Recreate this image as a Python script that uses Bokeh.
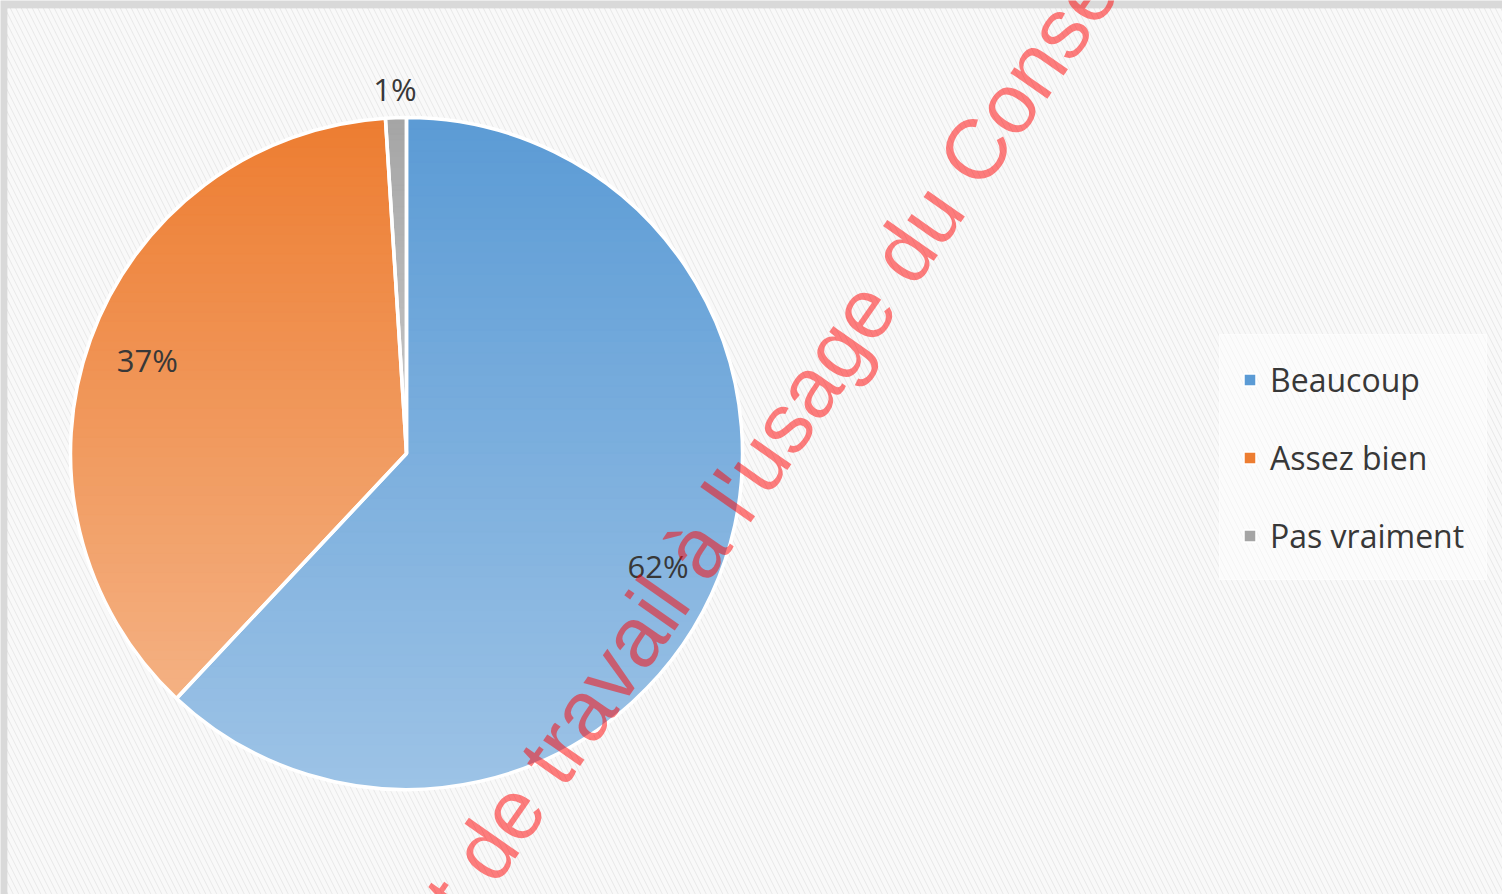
import numpy as np
from bokeh.plotting import figure
from bokeh.models import Range1d, ColumnDataSource, Legend, LegendItem, BoxAnnotation
from bokeh.core.properties import value
from bokeh.embed import file_html
from bokeh.resources import INLINE

# ---- data ----
categories = ["Beaucoup", "Assez bien", "Pas vraiment"]
percents = [62, 37, 1]
top_colors = ["#5b9bd5", "#ed7d31", "#a5a5a5"]
bottom_colors = ["#9dc3e6", "#f4b183", "#c9c9c9"]
watermark = "Document de travail à l'usage du Conseil"

# ---- layout ----
W, H = 1502, 894
CX, CY = 406, H - 453
R = 336

p = figure(width=W, height=H, x_range=Range1d(0, W), y_range=Range1d(0, H),
           output_backend="svg", toolbar_location=None, min_border=0)
p.axis.visible = False
p.grid.visible = False
p.outline_line_color = None
p.background_fill_color = "#d9d9d9"
p.border_fill_color = "#d9d9d9"

p.add_layout(BoxAnnotation(left=7, right=W, bottom=0, top=H - 8, level="underlay",
                           fill_color="#e8e8e8", fill_alpha=1.0, line_color=None,
                           hatch_pattern="left_diagonal_line", hatch_color="#f9f9f9",
                           hatch_weight=4, hatch_scale=11))

# angles (clockwise from 12 o'clock)
fr = np.array(percents, dtype=float) / sum(percents)
cum = np.concatenate([[0.0], np.cumsum(fr)])
starts = np.pi / 2 - 2 * np.pi * cum[:-1]
ends = np.pi / 2 - 2 * np.pi * cum[1:]

src = ColumnDataSource(dict(cat=categories, start=starts, end=ends, color=top_colors))
base = p.wedge(x=CX, y=CY, radius=R, start_angle="start", end_angle="end", direction="clock",
               fill_color="color", line_color="white", line_width=1.5, source=src)


def hex2rgb(h):
    h = h.lstrip("#")
    return np.array([int(h[i:i + 2], 16) for i in (0, 2, 4)], dtype=float)


def rgb2hex(c):
    return "#%02x%02x%02x" % tuple(int(round(v)) for v in c)


def clip_half(pts, keep, y):
    out = []
    n = len(pts)
    for i in range(n):
        cur, prev = pts[i], pts[i - 1]
        kc, kp = keep(cur), keep(prev)
        if kc:
            if not kp:
                t = (y - prev[1]) / (cur[1] - prev[1])
                out.append((prev[0] + t * (cur[0] - prev[0]), y))
            out.append(cur)
        elif kp:
            t = (y - prev[1]) / (cur[1] - prev[1])
            out.append((prev[0] + t * (cur[0] - prev[0]), y))
    return out


xs_all, ys_all, cols_all = [], [], []
NB = 60
for s, e, ct, cb in zip(starts, ends, top_colors, bottom_colors):
    nseg = max(4, int(abs(s - e) / (2 * np.pi) * 360))
    a = np.linspace(s, e, nseg)
    poly = [(CX, CY)] + list(zip(CX + R * np.cos(a), CY + R * np.sin(a)))
    ymin = min(q[1] for q in poly)
    ymax = max(q[1] for q in poly)
    edges = np.linspace(ymin, ymax, NB + 1)
    c_top, c_bot = hex2rgb(ct), hex2rgb(cb)
    for k in range(NB):
        y0, y1 = edges[k], edges[k + 1]
        part = clip_half(poly, lambda q: q[1] >= y0, y0)
        if not part:
            continue
        part = clip_half(part, lambda q: q[1] <= y1, y1)
        if len(part) < 3:
            continue
        t = ((y0 + y1) / 2 - ymin) / (ymax - ymin)
        col = rgb2hex(c_bot + (c_top - c_bot) * t)
        xs_all.append([q[0] for q in part])
        ys_all.append([q[1] for q in part])
        cols_all.append(col)

p.patches(xs=xs_all, ys=ys_all, fill_color=cols_all, line_color=cols_all, line_width=1)

p.wedge(x=CX, y=CY, radius=R, start_angle="start", end_angle="end", direction="clock",
        fill_alpha=0, line_color="white", line_width=3.5, source=src)

# data labels (inside end; very small slices outside end)
mids = (starts + ends) / 2
lr = np.where(fr < 0.05, R + 29, 0.82 * R)
la = mids - np.where(fr > 0.5, np.deg2rad(2.5), 0.0)
lab = ColumnDataSource(dict(x=CX + lr * np.cos(la), y=CY + lr * np.sin(la),
                            t=["%d%%" % v for v in percents]))
p.text(x="x", y="y", text="t", source=lab, text_align="center", text_baseline="middle",
       text_font=value("Open Sans"), text_font_size="31px", text_color="#383838")

legend = Legend(items=[LegendItem(label=c, renderers=[base], index=i) for i, c in enumerate(categories)],
                location=(1219, 314), orientation="vertical",
                background_fill_color="white", background_fill_alpha=0.5,
                border_line_color="white", border_line_alpha=0.4, border_line_width=1,
                label_text_font="Open Sans",
                label_text_font_size="32px", label_text_color="#383838",
                glyph_width=15, glyph_height=15, label_standoff=13,
                padding=22, spacing=34, label_height=44, margin=0)
p.add_layout(legend)

# watermark
p.text(x=[677.3], y=[H - 574.5], text=[watermark], angle=np.deg2rad(55),
       text_font=value("Liberation Sans"), text_font_size="85px", text_color="red",
       text_alpha=0.5, text_align="center", text_baseline="alphabetic")

open("out.html", "w").write(file_html(p, INLINE))
